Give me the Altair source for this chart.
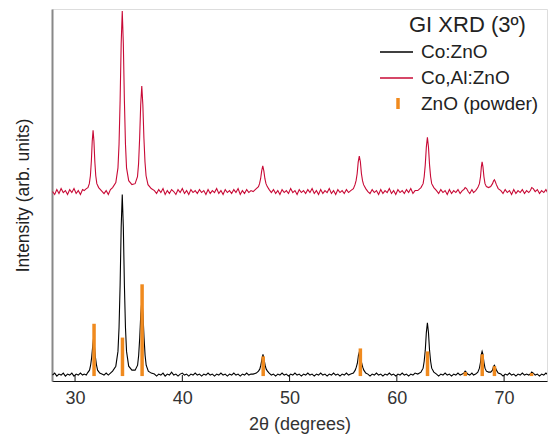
import altair as alt
import pandas as pd

FONT = "Liberation Sans"

# Co:ZnO pattern (2theta, intensity)
black_pts = [
    (27.9, 6), (28.1, 8), (28.3, 5), (28.5, 7), (28.7, 6), (28.9, 8), (29.1, 5), (29.3, 7), (29.5, 6), (29.7, 8),
    (29.9, 5), (30.1, 7), (30.3, 6), (30.5, 8), (30.7, 6),
    (30.85, 7), (31.05, 6), (31.15, 8), (31.35, 11), (31.45, 16), (31.55, 24), (31.65, 36), (31.72, 43),
    (31.8, 36), (31.9, 24), (32.0, 16), (32.1, 11), (32.3, 8), (32.5, 7), (32.7, 6),
    (32.9, 8), (33.1, 6), (33.3, 8),
    (33.5, 10), (33.8, 15), (34.0, 30), (34.1, 54), (34.2, 97), (34.3, 156), (34.4, 189), (34.5, 156),
    (34.6, 97), (34.7, 54), (34.8, 30), (35.0, 15), (35.3, 11),
    (35.6, 11), (35.83, 16), (35.93, 26), (36.03, 44), (36.13, 68), (36.23, 82), (36.33, 68), (36.43, 44),
    (36.53, 26), (36.63, 16), (36.83, 10), (37.1, 8), (37.4, 7),
    (37.6, 5), (37.8, 7), (38.0, 6), (38.2, 8), (38.4, 5), (38.6, 7), (38.8, 6), (39.0, 9), (39.2, 6), (39.4, 7),
    (39.6, 5), (39.8, 7), (40.0, 8), (40.2, 6), (40.4, 7), (40.6, 5), (40.8, 7), (41.0, 6), (41.2, 8), (41.4, 6),
    (41.6, 7), (41.8, 5), (42.0, 7), (42.2, 6), (42.4, 8), (42.6, 6), (42.8, 7), (43.0, 5), (43.2, 7), (43.4, 6),
    (43.6, 8), (43.8, 6), (44.0, 7), (44.2, 5), (44.4, 7), (44.6, 6), (44.8, 8), (45.0, 6), (45.2, 7), (45.4, 5),
    (45.6, 7), (45.8, 6), (46.0, 8), (46.2, 6), (46.4, 7),
    (46.6, 7), (46.9, 8), (47.1, 10), (47.22, 12), (47.32, 16), (47.42, 22), (47.52, 27), (47.62, 22),
    (47.72, 16), (47.82, 12), (47.94, 10), (48.1, 8), (48.3, 6),
    (48.5, 7), (48.7, 5), (48.9, 7), (49.1, 6), (49.3, 8), (49.5, 6), (49.7, 7), (49.9, 5), (50.1, 7), (50.3, 6),
    (50.5, 8), (50.7, 6), (50.9, 7), (51.1, 5), (51.3, 7), (51.5, 6), (51.7, 8), (51.9, 6), (52.1, 7), (52.3, 5),
    (52.5, 7), (52.7, 6), (52.9, 8), (53.1, 6), (53.3, 7), (53.5, 5), (53.7, 7), (53.9, 6), (54.1, 8), (54.3, 6),
    (54.5, 7), (54.7, 5), (54.9, 7), (55.1, 6), (55.3, 8), (55.5, 6),
    (55.7, 7), (55.95, 8), (56.12, 11), (56.22, 14), (56.32, 18), (56.42, 26), (56.52, 30), (56.62, 26),
    (56.72, 18), (56.82, 14), (56.92, 11), (57.1, 8), (57.3, 7),
    (57.5, 5), (57.7, 7), (57.9, 6), (58.1, 8), (58.3, 6), (58.5, 7), (58.7, 5), (58.9, 7), (59.1, 6), (59.3, 8),
    (59.5, 6), (59.7, 7), (59.9, 5), (60.1, 7), (60.3, 6), (60.5, 8), (60.7, 6), (60.9, 7), (61.1, 5), (61.3, 7),
    (61.5, 6), (61.7, 8),
    (61.95, 7), (62.25, 9), (62.45, 13), (62.55, 20), (62.65, 31), (62.75, 49), (62.85, 59), (62.95, 49),
    (63.05, 31), (63.15, 20), (63.25, 13), (63.45, 9), (63.7, 7),
    (63.9, 5), (64.1, 7), (64.3, 6), (64.5, 8), (64.7, 6), (64.9, 7), (65.1, 5), (65.3, 7), (65.5, 6), (65.7, 8),
    (65.9, 6),
    (66.1, 7), (66.25, 8), (66.37, 10), (66.47, 9), (66.6, 7), (66.8, 6), (67.0, 8), (67.15, 6),
    (67.35, 7), (67.55, 9), (67.7, 13), (67.8, 19), (67.88, 27), (67.95, 30), (68.03, 27), (68.12, 19),
    (68.22, 13), (68.35, 10), (68.55, 9),
    (68.75, 9), (68.92, 11), (69.02, 15), (69.1, 16), (69.18, 14), (69.28, 11), (69.45, 8), (69.7, 7),
    (69.9, 5), (70.1, 7), (70.3, 6), (70.5, 8), (70.7, 6), (70.9, 7), (71.1, 5), (71.3, 7), (71.5, 6), (71.7, 8),
    (71.9, 6), (72.1, 7), (72.3, 6),
    (72.45, 7), (72.58, 9), (72.72, 8), (72.9, 6),
    (73.1, 7), (73.3, 5), (73.5, 7), (73.7, 6), (73.9, 8), (74.1, 6), (74.3, 7), (74.5, 5), (74.7, 7), (74.8, 6),
]

# Co,Al:ZnO pattern (offset upward)
red_pts = [
    (27.9, 192), (28.1, 189), (28.3, 194), (28.5, 190), (28.7, 195), (28.9, 191), (29.1, 193), (29.3, 189),
    (29.5, 194), (29.7, 191), (29.9, 195), (30.1, 190), (30.3, 193), (30.5, 189), (30.7, 194),
    (30.85, 193), (31.05, 195), (31.2, 196), (31.33, 200), (31.43, 208), (31.52, 223), (31.6, 243), (31.68, 254),
    (31.76, 243), (31.84, 223), (31.93, 208), (32.03, 200), (32.2, 196), (32.45, 193), (32.7, 190),
    (32.9, 193), (33.1, 189), (33.3, 194),
    (33.5, 196), (33.8, 201), (34.0, 216), (34.1, 240), (34.2, 284), (34.3, 342), (34.4, 375), (34.5, 342),
    (34.6, 284), (34.7, 240), (34.8, 216), (35.0, 203), (35.3, 199),
    (35.6, 200), (35.82, 207), (35.92, 220), (36.02, 246), (36.12, 280), (36.22, 299), (36.32, 280),
    (36.42, 246), (36.52, 222), (36.62, 208), (36.8, 199), (37.1, 195), (37.4, 193),
    (37.6, 190), (37.8, 194), (38.0, 191), (38.2, 195), (38.4, 189), (38.6, 193), (38.8, 190), (39.0, 194),
    (39.2, 192), (39.4, 189), (39.6, 194), (39.8, 191), (40.0, 195), (40.2, 190), (40.4, 193), (40.6, 189),
    (40.8, 194), (41.0, 191), (41.2, 193), (41.4, 190), (41.6, 194), (41.8, 191), (42.0, 193), (42.2, 189),
    (42.4, 194), (42.6, 190), (42.8, 193), (43.0, 191), (43.2, 195), (43.4, 190), (43.6, 193), (43.8, 189),
    (44.0, 194), (44.2, 191), (44.4, 193), (44.6, 190), (44.8, 194), (45.0, 191), (45.2, 195), (45.4, 189),
    (45.6, 193), (45.8, 190), (46.0, 194), (46.2, 191), (46.4, 193),
    (46.6, 192), (46.9, 195), (47.1, 197), (47.2, 200), (47.3, 205), (47.4, 213), (47.5, 218), (47.6, 213),
    (47.7, 205), (47.8, 200), (47.92, 197), (48.1, 194), (48.3, 191),
    (48.5, 194), (48.7, 190), (48.9, 193), (49.1, 189), (49.3, 194), (49.5, 191), (49.7, 193), (49.9, 190),
    (50.1, 195), (50.3, 191), (50.5, 193), (50.7, 189), (50.9, 194), (51.1, 191), (51.3, 193), (51.5, 190),
    (51.7, 194), (51.9, 191), (52.1, 195), (52.3, 190), (52.5, 193), (52.7, 189), (52.9, 194), (53.1, 190),
    (53.3, 193), (53.5, 191), (53.7, 195), (53.9, 190), (54.1, 193), (54.3, 189), (54.5, 194), (54.7, 191),
    (54.9, 193), (55.1, 190), (55.3, 194), (55.5, 191),
    (55.7, 193), (55.95, 195), (56.1, 199), (56.2, 203), (56.3, 210), (56.4, 222), (56.5, 228), (56.6, 222),
    (56.7, 210), (56.8, 203), (56.9, 199), (57.1, 195), (57.3, 192),
    (57.5, 190), (57.7, 194), (57.9, 191), (58.1, 193), (58.3, 189), (58.5, 194), (58.7, 190), (58.9, 193),
    (59.1, 191), (59.3, 195), (59.5, 190), (59.7, 193), (59.9, 189), (60.1, 194), (60.3, 191), (60.5, 193),
    (60.7, 190), (60.9, 194), (61.1, 191), (61.3, 195), (61.5, 190), (61.7, 193),
    (61.95, 193), (62.25, 196), (62.45, 200), (62.55, 207), (62.65, 219), (62.75, 237), (62.85, 247),
    (62.95, 237), (63.05, 219), (63.15, 207), (63.25, 200), (63.45, 196), (63.7, 193),
    (63.9, 190), (64.1, 194), (64.3, 191), (64.5, 193), (64.7, 189), (64.9, 194), (65.1, 190), (65.3, 193),
    (65.5, 191), (65.7, 194), (65.9, 190),
    (66.1, 193), (66.25, 194), (66.37, 196), (66.5, 195), (66.65, 192), (66.8, 190), (67.0, 194), (67.15, 191),
    (67.35, 193), (67.55, 196), (67.7, 200), (67.8, 207), (67.88, 217), (67.95, 222), (68.03, 217),
    (68.12, 207), (68.22, 200), (68.35, 197), (68.55, 196),
    (68.75, 197), (68.92, 200), (69.02, 203), (69.1, 204), (69.18, 202), (69.28, 199), (69.45, 195), (69.7, 193),
    (69.9, 190), (70.1, 194), (70.3, 191), (70.5, 193), (70.7, 189), (70.9, 194), (71.1, 190), (71.3, 193),
    (71.5, 191), (71.7, 194), (71.9, 190), (72.1, 193), (72.3, 191),
    (72.45, 193), (72.58, 196), (72.72, 195), (72.9, 192),
    (73.1, 194), (73.3, 190), (73.5, 193), (73.7, 191), (73.9, 194), (74.1, 190), (74.3, 193), (74.5, 191),
    (74.7, 194), (74.8, 192),
]

# ZnO powder reference lines
zno_pos = [31.77, 34.42, 36.25, 47.54, 56.60, 62.86, 66.38, 67.96, 69.10, 72.56]
zno_int = [58, 44, 98, 25, 33, 30, 9, 27, 15, 8]
zno_base = 5

tick_vals = [30, 40, 50, 60, 70]
legend_title = "GI XRD (3º)"
legend_labels = ["Co:ZnO", "Co,Al:ZnO", "ZnO (powder)"]
x_title = "2θ (degrees)"
y_title = "Intensity (arb. units)"

BLACK = "#000000"
RED = "#C80A36"
ORANGE = "#F08A1E"

df_black = pd.DataFrame(black_pts, columns=["theta", "I"])
df_red = pd.DataFrame(red_pts, columns=["theta", "I"])
df_zno = pd.DataFrame({"theta": zno_pos, "I": zno_int, "base": [zno_base] * len(zno_pos)})
df_ticks = pd.DataFrame({"theta": tick_vals})
one = pd.DataFrame({"k": [0]})

x_scale = alt.Scale(domain=[27.85, 74.0], nice=False, zero=False)
y_scale = alt.Scale(domain=[0, 377], nice=False, zero=False)

x_enc = alt.X(
    "theta:Q", scale=x_scale,
    axis=alt.Axis(values=tick_vals, ticks=False, grid=False, domain=True, domainColor="#111",
                  domainWidth=1.2, labelFontSize=18, labelFont=FONT, labelColor="#333",
                  labelPadding=8, title=x_title, titleFont=FONT, titleFontSize=18,
                  titleFontWeight="normal", titleColor="#333", titlePadding=8),
)
y_enc = alt.Y(
    "I:Q", scale=y_scale,
    axis=alt.Axis(labels=False, ticks=False, grid=False, domain=True, domainColor="#888",
                  domainWidth=2, title=y_title, titleFont=FONT, titleFontSize=17.5,
                  titleFontWeight="normal", titleColor="#222", titlePadding=20),
)

black_line = alt.Chart(df_black).mark_line(color=BLACK, strokeWidth=1.1, clip=True).encode(
    x=x_enc, y=y_enc, order="theta:Q")
red_line = alt.Chart(df_red).mark_line(color=RED, strokeWidth=1.1, clip=True).encode(
    x=x_enc, y=y_enc, order="theta:Q")
zno_bars = alt.Chart(df_zno).mark_rule(color=ORANGE, strokeWidth=3.5, clip=True).encode(
    x=x_enc, y=y_enc, y2="base:Q")
ticks = alt.Chart(df_ticks).mark_rule(color="#111", strokeWidth=1).encode(
    x=x_enc, y=alt.value(372), y2=alt.value(366))


def txt(s, x, y, size, color="#222"):
    return alt.Chart(one).mark_text(text=s, align="left", baseline="middle", fontSize=size,
                                    font=FONT, color=color).encode(x=alt.value(x), y=alt.value(y))


leg = [
    txt(legend_title, 357, 16, 22),
    alt.Chart(one).mark_rule(color=BLACK, strokeWidth=1.5).encode(
        x=alt.value(328), x2=alt.value(361), y=alt.value(43)),
    txt(legend_labels[0], 369, 43, 19),
    alt.Chart(one).mark_rule(color=RED, strokeWidth=1.5).encode(
        x=alt.value(328), x2=alt.value(361), y=alt.value(69)),
    txt(legend_labels[1], 369, 69, 19),
    alt.Chart(one).mark_rule(color=ORANGE, strokeWidth=3.5).encode(
        x=alt.value(346), y=alt.value(89), y2=alt.value(100)),
    txt(legend_labels[2], 369, 95, 19),
]

chart = alt.layer(black_line, red_line, zno_bars, ticks, *leg).properties(
    width=495, height=372,
    padding={"left": 44, "top": 1, "right": 2, "bottom": 55},
    autosize=alt.AutoSizeParams(type="none"),
).configure_view(stroke="#111", strokeWidth=1).configure(background="white")

chart.save("out.html", embed_options={"renderer": "svg", "actions": False})
